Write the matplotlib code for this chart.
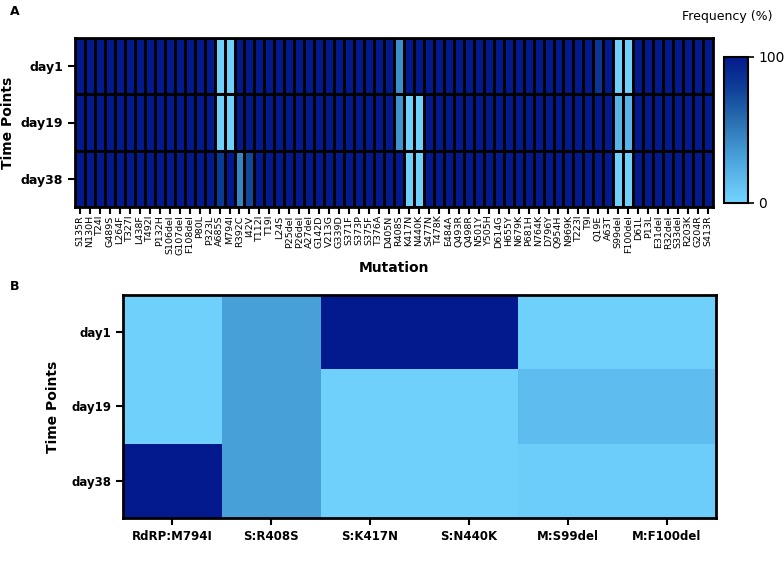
import numpy as np
import matplotlib
matplotlib.use("Agg")
import matplotlib.pyplot as plt
from matplotlib.colors import LinearSegmentedColormap

mutations = ["S135R","N130H","T24I","G489S","L264F","T327I","L438F","T492I","P132H","S106del","G107del","F108del","P80L","P323L","A685S","M794I","R392C","I42V","T112I","T19I","L24S","P25del","P26del","A27del","G142D","V213G","G339D","S371F","S373P","S375F","T376A","D405N","R408S","K417N","N440K","S477N","T478K","E484A","Q493R","Q498R","N501Y","Y505H","D614G","H655Y","N679K","P681H","N764K","D796Y","Q954H","N969K","T223I","T9I","Q19E","A63T","S99del","F100del","D61L","P13L","E31del","R32del","S33del","R203K","G204R","S413R"]
days = ["day1", "day19", "day38"]
special_day1 = {"A685S": 3, "M794I": 3, "R408S": 40, "Q19E": 85, "S99del": 3, "F100del": 3}
special_day19 = {"A685S": 3, "M794I": 3, "R408S": 38, "K417N": 3, "N440K": 3, "S99del": 20, "F100del": 20}
special_day38 = {"A685S": 82, "R392C": 45, "I42V": 75, "K417N": 3, "N440K": 3, "S99del": 3, "F100del": 3}

b_mutations = ["RdRP:M794I", "S:R408S", "S:K417N", "S:N440K", "M:S99del", "M:F100del"]
b_day1 = [3, 32, 100, 100, 3, 3]
b_day19 = [3, 32, 3, 3, 15, 15]
b_day38 = [100, 32, 3, 3, 5, 5]

cmap = LinearSegmentedColormap.from_list(
    "c", [(0, "#74d5ff"), (0.3, "#4aa3dc"), (0.55, "#2a72b2"), (0.8, "#0c3d97"), (1, "#031a8e")], N=256)

A = np.full((3, len(mutations)), 100.0)
for r, sp in enumerate([special_day1, special_day19, special_day38]):
    for k, v in sp.items():
        A[r, mutations.index(k)] = v
B = np.array([b_day1, b_day19, b_day38], dtype=float)

fig = plt.figure(figsize=(7.84, 5.75), dpi=100)
axA = fig.add_axes([75/784, 1-207/575, 638/784, 169/575])
mA = axA.pcolormesh(A, cmap=cmap, vmin=0, vmax=100, edgecolors="black", linewidth=0.8)
axA.invert_yaxis()
axA.set_xticks(np.arange(len(mutations)) + 0.5)
axA.set_xticklabels(mutations, rotation=90, fontsize=6.8)
axA.set_yticks(np.arange(3) + 0.5)
axA.set_yticklabels(days, fontsize=9, fontweight="bold")
axA.tick_params(axis="x", length=5, width=1.5, pad=1)
axA.tick_params(axis="y", length=5, width=1.5)
for s in axA.spines.values():
    s.set_linewidth(2)
for y in [1, 2]:
    axA.axhline(y, color="black", lw=1.5)
axA.set_xlabel("Mutation", fontsize=10, fontweight="bold", labelpad=4)
axA.set_ylabel("Time Points", fontsize=10, fontweight="bold")
fig.text(10/784, 1-15/575, "A", fontsize=9, fontweight="bold")

cax = fig.add_axes([724/784, 1-203/575, 24/784, 146/575])
cb = fig.colorbar(mA, cax=cax, ticks=[0, 100])
cb.ax.tick_params(labelsize=10, length=4, width=1.2)
cb.outline.set_linewidth(1.5)
fig.text(772/784, 1-20/575, "Frequency (%)", fontsize=9, ha="right")

axB = fig.add_axes([123/784, 1-518/575, 593/784, 223/575])
axB.pcolormesh(B, cmap=cmap, vmin=0, vmax=100)
axB.invert_yaxis()
axB.set_xticks(np.arange(len(b_mutations)) + 0.5)
axB.set_xticklabels(b_mutations, fontsize=8.5, fontweight="bold")
axB.set_yticks(np.arange(3) + 0.5)
axB.set_yticklabels(days, fontsize=8.5, fontweight="bold")
axB.tick_params(length=5, width=1.5)
for s in axB.spines.values():
    s.set_linewidth(2)
axB.set_ylabel("Time Points", fontsize=10, fontweight="bold", labelpad=8)
fig.text(10/784, 1-290/575, "B", fontsize=9, fontweight="bold")

fig.savefig("out.png", dpi=100)
